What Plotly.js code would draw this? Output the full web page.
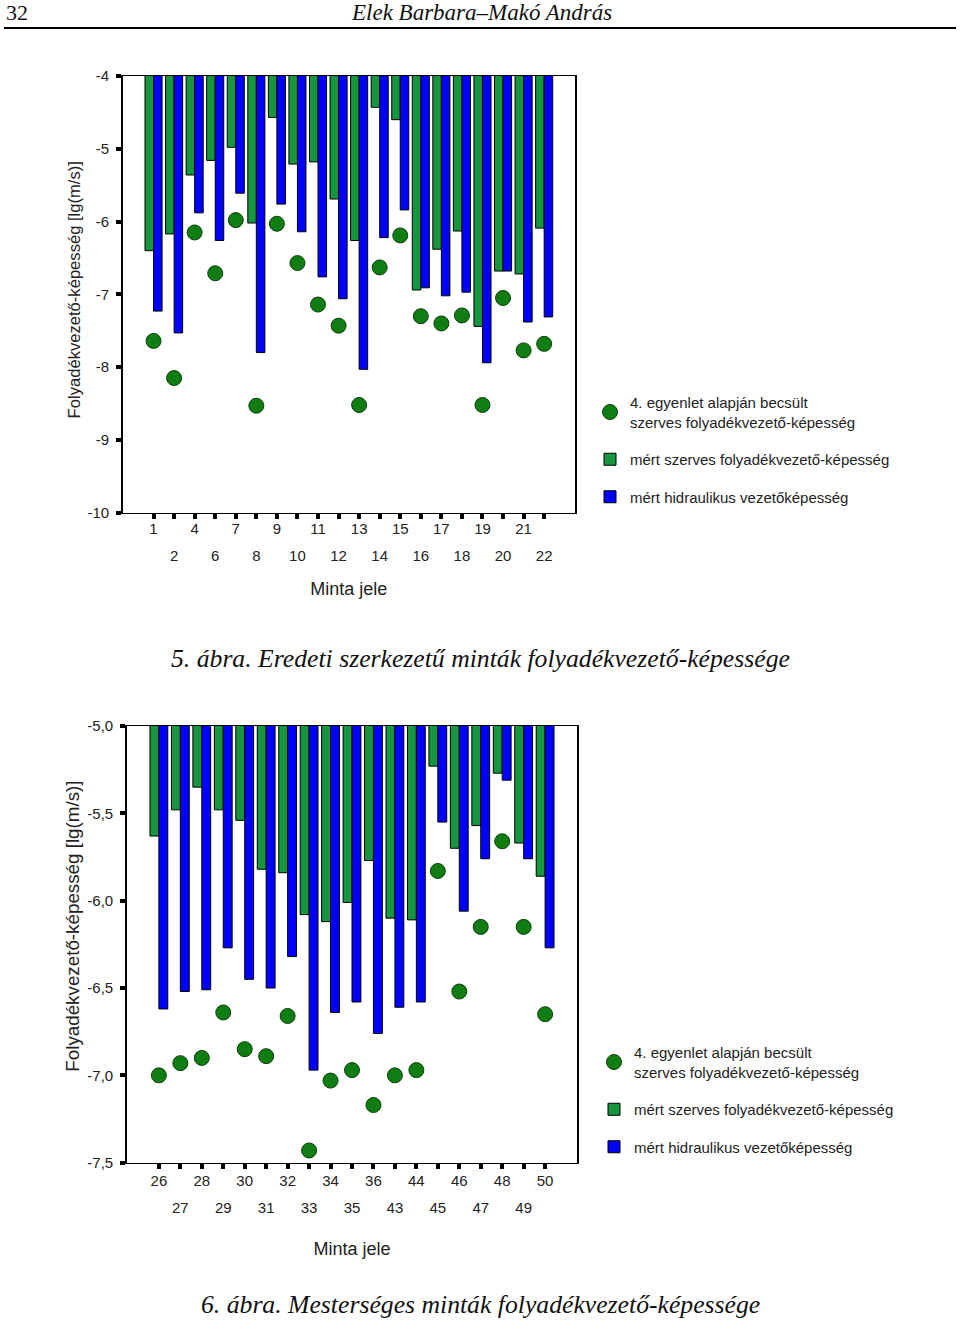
<!DOCTYPE html>
<html>
<head>
<meta charset="utf-8">
<script src="https://cdn.plot.ly/plotly-3.0.1.min.js"></script>
<style>
html,body{margin:0;padding:0;background:#fff;}
#chart{width:960px;height:1321px;}
</style>
</head>
<body>
<div id="chart"></div>
<script>
// ---- Figure 5 (top): original-structure samples ----
const cats1 = ['1','2','4','6','7','8','9','10','11','12','13','14','15','16','17','18','19','20','21','22'];
const measuredOrganic1 = [-6.40,-6.17,-5.36,-5.16,-4.98,-6.02,-4.57,-5.21,-5.18,-5.69,-6.26,-4.43,-4.60,-6.94,-6.38,-6.13,-7.44,-6.68,-6.72,-6.09];
const measuredHydraulic1 = [-7.23,-7.53,-5.88,-6.26,-5.61,-7.80,-5.76,-6.14,-6.76,-7.06,-8.03,-6.22,-5.84,-6.91,-7.02,-6.97,-7.94,-6.68,-7.38,-7.31];
const estimated1 = [-7.64,-8.15,-6.15,-6.71,-5.98,-8.53,-6.03,-6.57,-7.14,-7.43,-8.52,-6.63,-6.19,-7.30,-7.40,-7.29,-8.52,-7.05,-7.77,-7.68];
const yTicks1 = [-4,-5,-6,-7,-8,-9,-10];
const yTickText1 = ['-4','-5','-6','-7','-8','-9','-10'];

// ---- Figure 6 (bottom): artificial samples ----
const cats2 = ['26','27','28','29','30','31','32','33','34','35','36','43','44','45','46','47','48','49','50'];
const measuredOrganic2 = [-5.63,-5.48,-5.35,-5.48,-5.54,-5.82,-5.84,-6.08,-6.12,-6.01,-5.77,-6.10,-6.11,-5.23,-5.70,-5.57,-5.27,-5.67,-5.86];
const measuredHydraulic2 = [-6.62,-6.52,-6.51,-6.27,-6.45,-6.50,-6.32,-6.97,-6.64,-6.58,-6.76,-6.61,-6.58,-5.55,-6.06,-5.76,-5.31,-5.76,-6.27];
const estimated2 = [-7.00,-6.93,-6.90,-6.64,-6.85,-6.89,-6.66,-7.43,-7.03,-6.97,-7.17,-7.00,-6.97,-5.83,-6.52,-6.15,-5.66,-6.15,-6.65];
const yTicks2 = [-5.0,-5.5,-6.0,-6.5,-7.0,-7.5];
const yTickText2 = ['-5,0','-5,5','-6,0','-6,5','-7,0','-7,5'];

// ---- texts ----
const seriesNames = ['4. egyenlet alapján becsült<br>szerves folyadékvezető-képesség',
                     'mért szerves folyadékvezető-képesség',
                     'mért hidraulikus vezetőképesség'];
const yTitle = 'Folyadékvezető-képesség [lg(m/s)]';
const xTitle = 'Minta jele';
const caption1 = '5. ábra. Eredeti szerkezetű minták folyadékvezető-képessége';
const caption2 = '6. ábra. Mesterséges minták folyadékvezető-képessége';
const pageNumber = '32';
const runningHead = 'Elek Barbara–Makó András';

const W = 960, H = 1321;
const SANS = '"Liberation Sans", Arial, sans-serif';
const SERIF = '"Liberation Serif", "Times New Roman", serif';
const GREEN = '#16963e', BLUE = '#0000ff', DOT = '#0f7d12';
const px = v => v / W, py = v => 1 - v / H;
const pad = n => '&nbsp;'.repeat(n);

const row1 = (cats) => cats.map((c, i) => i % 2 === 0 ? c : '');
const row2 = (cats) => cats.filter((c, i) => i % 2 === 1);

function traces(cats, organic, hydraulic, est, xa, ya, xlab, leg) {
  return [
    {type:'scatter', mode:'markers', x:cats, y:est, xaxis:xa, yaxis:ya, name:seriesNames[0], legend:leg, legendgroup:leg+'a',
     marker:{size:15, color:DOT, line:{color:'#0a3f0a', width:1}}, cliponaxis:false},
    {type:'bar', x:cats, y:organic, xaxis:xa, yaxis:ya, name:seriesNames[1], legend:leg, legendgroup:leg+'b',
     marker:{color:GREEN, line:{color:'#000', width:1}}},
    {type:'bar', x:cats, y:hydraulic, xaxis:xa, yaxis:ya, name:seriesNames[2], legend:leg, legendgroup:leg+'c',
     marker:{color:BLUE, line:{color:'#000', width:1}}},
    {type:'scatter', mode:'markers', x:cats, y:cats.map(() => null), xaxis:xlab, yaxis:ya, showlegend:false, hoverinfo:'skip'}
  ];
}

const data = [].concat(
  traces(cats1, measuredOrganic1, measuredHydraulic1, estimated1, 'x', 'y', 'x3', 'legend'),
  traces(cats2, measuredOrganic2, measuredHydraulic2, estimated2, 'x2', 'y2', 'x4', 'legend2')
);

const tickFont = {family:SANS, size:15, color:'#222'};
const baseX = (cats, domain, ya, st) => ({
  domain, anchor:ya, type:'category', categoryorder:'array', categoryarray:cats,
  range:[-1.5, cats.length + 0.5], showline:true, mirror:true, linecolor:'#000', linewidth:1.5,
  ticks:'outside', ticklen:5, tickwidth:4, tickcolor:'#000', showgrid:false, zeroline:false,
  tickmode:'array', tickvals:cats, ticktext:row1(cats), tickangle:0, tickfont:tickFont, ticklabelstandoff:st
});
const labX = (cats, over, ya, st) => ({
  overlaying:over, anchor:ya, side:'bottom', type:'category', categoryorder:'array', categoryarray:cats,
  range:[-1.5, cats.length + 0.5], showline:false, ticks:'', showgrid:false, zeroline:false,
  tickmode:'array', tickvals:row2(cats), ticktext:row2(cats), tickangle:0, tickfont:tickFont, ticklabelstandoff:st
});
const baseY = (domain, xa, range, tickvals, ticktext, title, titleSize, standoff) => ({
  domain, anchor:xa, range, showline:true, mirror:true, linecolor:'#000', linewidth:1.5,
  ticks:'outside', ticklen:5, tickwidth:4, tickcolor:'#000', showgrid:false, zeroline:false,
  tickmode:'array', tickvals, ticktext, tickfont:tickFont, ticklabelstandoff:4,
  title:{text:title, font:{family:SANS, size:titleSize, color:'#222'}, standoff}
});

const legendBase = {font:{family:SANS, size:15, color:'#222'}, bgcolor:'rgba(0,0,0,0)',
  traceorder:'grouped', tracegroupgap:15, xanchor:'left', yanchor:'top', itemwidth:30};

const layout = {
  width:W, height:H, margin:{l:0, r:0, t:0, b:0},
  paper_bgcolor:'#fff', plot_bgcolor:'#fff',
  barmode:'group', bargap:0.17, bargroupgap:0,
  showlegend:true, font:{family:SANS, color:'#222'},
  xaxis: Object.assign(baseX(cats1, [px(122.7), px(575)], 'y', -3),
    {title:{text:xTitle, font:{family:SANS, size:18, color:'#222'}, standoff:46}}),
  xaxis3: labX(cats1, 'x', 'y', 32),
  yaxis: baseY([py(512.7), py(76)], 'x', [-10, -4], yTicks1, yTickText1, pad(2) + yTitle, 16.6, 2),
  xaxis2: Object.assign(baseX(cats2, [px(126.7), px(577.3)], 'y2', -1),
    {title:{text:xTitle, font:{family:SANS, size:18, color:'#222'}, standoff:54}}),
  xaxis4: labX(cats2, 'x2', 'y2', 34),
  yaxis2: baseY([py(1162.7), py(726)], 'x2', [-7.5, -5.0], yTicks2, yTickText2, pad(7) + yTitle, 18.8, 3),
  legend: Object.assign({}, legendBase, {x:px(590), y:py(386)}),
  legend2: Object.assign({}, legendBase, {x:px(594), y:py(1036)}),
  shapes:[
    {type:'line', xref:'paper', yref:'paper', x0:px(4), x1:px(956), y0:py(28), y1:py(28), line:{color:'#000', width:2}}
  ],
  annotations:[
    {text:pageNumber, xref:'paper', yref:'paper', x:px(4), y:py(12), xanchor:'left', yanchor:'middle', showarrow:false,
     font:{family:SERIF, size:22, color:'#111'}},
    {text:'<i>'+runningHead+'</i>', xref:'paper', yref:'paper', x:px(481), y:py(13), xanchor:'center', yanchor:'middle', showarrow:false,
     font:{family:SERIF, size:23, color:'#111'}},
    {text:'<i>'+caption1+'</i>', xref:'paper', yref:'paper', x:px(480), y:py(658), xanchor:'center', yanchor:'middle', showarrow:false,
     font:{family:SERIF, size:25.7, color:'#111'}},
    {text:'<i>'+caption2+'</i>', xref:'paper', yref:'paper', x:px(480), y:py(1304), xanchor:'center', yanchor:'middle', showarrow:false,
     font:{family:SERIF, size:25.7, color:'#111'}}
  ]
};

Plotly.newPlot('chart', data, layout, {staticPlot:true, displayModeBar:false});
</script>
</body>
</html>
